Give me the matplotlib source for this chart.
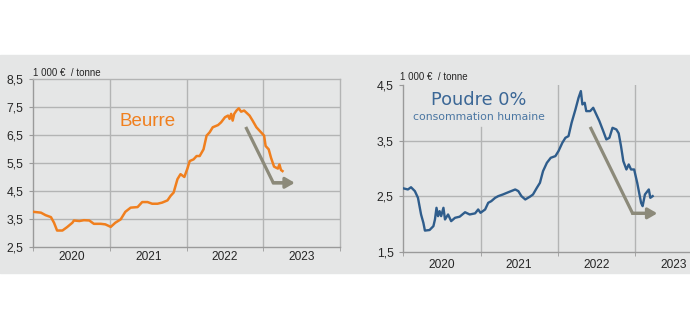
import numpy as np
import matplotlib.pyplot as plt

# prix beurre (1000 EUR / tonne)
beurre_t = [2020.0, 2020.10, 2020.16, 2020.23, 2020.27, 2020.31, 2020.38, 2020.44, 2020.51, 2020.53,
            2020.60, 2020.66, 2020.73, 2020.79, 2020.88, 2020.94, 2021.01, 2021.07, 2021.14, 2021.20,
            2021.27, 2021.36, 2021.42, 2021.49, 2021.55, 2021.62, 2021.68, 2021.75, 2021.79, 2021.83,
            2021.88, 2021.92, 2021.97, 2022.01, 2022.04, 2022.09, 2022.13, 2022.17, 2022.22, 2022.26,
            2022.30, 2022.34, 2022.41, 2022.45, 2022.50, 2022.54, 2022.56, 2022.58, 2022.60, 2022.62,
            2022.65, 2022.68, 2022.71, 2022.75, 2022.82, 2022.86, 2022.91, 2022.97, 2023.01, 2023.03,
            2023.07, 2023.10, 2023.14, 2023.19, 2023.21, 2023.23, 2023.25]
beurre_v = [3.75, 3.72, 3.63, 3.56, 3.36, 3.08, 3.08, 3.20, 3.36, 3.44,
            3.42, 3.45, 3.44, 3.32, 3.32, 3.30, 3.21, 3.36, 3.48, 3.75,
            3.90, 3.92, 4.10, 4.10, 4.04, 4.04, 4.08, 4.16, 4.32, 4.44,
            4.92, 5.10, 5.00, 5.30, 5.57, 5.63, 5.75, 5.75, 5.99, 6.48,
            6.60, 6.78, 6.86, 6.96, 7.14, 7.20, 7.08, 7.26, 7.02, 7.26,
            7.38, 7.46, 7.34, 7.38, 7.20, 7.02, 6.78, 6.60, 6.48, 6.11,
            5.99, 5.69, 5.37, 5.30, 5.45, 5.25, 5.21]

# prix poudre 0% (1000 EUR / tonne)
poudre_t = [2020.0, 2020.06, 2020.10, 2020.15, 2020.19, 2020.23, 2020.26, 2020.28, 2020.34, 2020.39,
            2020.41, 2020.43, 2020.45, 2020.47, 2020.49, 2020.52, 2020.54, 2020.58, 2020.62, 2020.67,
            2020.73, 2020.80, 2020.86, 2020.93, 2020.97, 2021.0, 2021.06, 2021.10, 2021.14, 2021.19,
            2021.23, 2021.29, 2021.36, 2021.45, 2021.49, 2021.53, 2021.58, 2021.64, 2021.68, 2021.73,
            2021.77, 2021.81, 2021.86, 2021.91, 2021.97, 2022.01, 2022.06, 2022.10, 2022.14, 2022.18,
            2022.23, 2022.27, 2022.30, 2022.32, 2022.35, 2022.37, 2022.42, 2022.46, 2022.50, 2022.54,
            2022.59, 2022.63, 2022.67, 2022.71, 2022.76, 2022.79, 2022.82, 2022.85, 2022.89, 2022.92,
            2022.95, 2022.99, 2023.03, 2023.08, 2023.10, 2023.13, 2023.18, 2023.20, 2023.23]
poudre_v = [2.64, 2.62, 2.66, 2.59, 2.47, 2.17, 2.02, 1.88, 1.89, 1.96,
            2.08, 2.29, 2.14, 2.23, 2.14, 2.29, 2.08, 2.17, 2.05, 2.11,
            2.13, 2.21, 2.17, 2.19, 2.26, 2.20, 2.26, 2.38, 2.41, 2.47,
            2.50, 2.53, 2.57, 2.62, 2.59, 2.50, 2.44, 2.49, 2.53, 2.65,
            2.74, 2.95, 3.10, 3.19, 3.22, 3.31, 3.46, 3.55, 3.58, 3.82,
            4.06, 4.27, 4.39, 4.15, 4.18, 4.03, 4.03, 4.09, 3.97, 3.85,
            3.67, 3.52, 3.55, 3.73, 3.70, 3.63, 3.40, 3.13, 2.98, 3.07,
            2.98, 2.98, 2.74, 2.38, 2.32, 2.53, 2.62, 2.47, 2.50]

# fleches de tendance
beurre_arrow_t = [2022.78, 2023.13, 2023.41]
beurre_arrow_v = [6.74, 4.79, 4.79]
poudre_arrow_t = [2022.43, 2022.97, 2023.29]
poudre_arrow_v = [3.72, 2.19, 2.19]

years = [2020, 2021, 2022, 2023]

BG = '#e5e6e6'
GRID = '#b3b4b4'
SPINE = '#9a9a9a'
TXT = '#262626'
ORANGE = '#f07f1e'
BLUE = '#2f5d8c'
ARROW = '#8c8a7a'

plt.rcParams['font.family'] = ['Liberation Sans', 'DejaVu Sans']

fig = plt.figure(figsize=(6.9, 3.35), dpi=100)
fig.patch.set_facecolor('white')
# bandeau gris
band = plt.Rectangle((0, 1 - 273 / 335), 1, (273 - 55) / 335,
                     transform=fig.transFigure, color=BG, zorder=-5)
fig.add_artist(band)


def setup(ax, ylo, yhi, ystep, grid_y):
    ax.set_facecolor(BG)
    ax.set_xlim(2020, 2024)
    ax.set_ylim(ylo, yhi)
    ax.set_yticks(np.arange(ylo, yhi + 0.01, ystep))
    ax.set_yticklabels([f'{v:.1f}'.replace('.', ',') for v in np.arange(ylo, yhi + 0.01, ystep)])
    ax.set_xticks([y + 0.5 for y in years])
    ax.set_xticklabels([str(y) for y in years])
    ax.set_xticks(years + [2024], minor=True)
    ax.tick_params(axis='x', which='major', length=0, labelsize=8.6, colors=TXT, pad=3)
    ax.tick_params(axis='x', which='minor', length=3, color=SPINE)
    ax.tick_params(axis='y', length=3, color=SPINE, labelsize=8.8, colors=TXT, pad=4)
    for v in grid_y:
        ax.axhline(v, color=GRID, lw=1.0, zorder=1)
    for s in ax.spines.values():
        s.set_color(SPINE)
        s.set_linewidth(1.0)


# --- Beurre ---
ax1 = fig.add_axes([33.3 / 690, 1 - 246.7 / 335, 306.7 / 690, 167.4 / 335])
setup(ax1, 2.5, 8.5, 1.0, [3.5, 4.5, 5.5, 6.5, 7.5])
for y in [2021, 2022, 2023]:
    ax1.axvline(y, color=GRID, lw=1.0, zorder=1)
ax1.spines['top'].set_color(GRID)
ax1.spines['right'].set_color(GRID)
ax1.plot(beurre_t, beurre_v, color=ORANGE, lw=1.8, zorder=3)
ax1.plot(beurre_arrow_t[:2] + [beurre_arrow_t[2] - 0.08], beurre_arrow_v, color=ARROW, lw=2.3,
         solid_joinstyle='miter', zorder=2)
ax1.annotate('', xy=(beurre_arrow_t[2], beurre_arrow_v[2]),
             xytext=(beurre_arrow_t[1], beurre_arrow_v[1]),
             arrowprops=dict(arrowstyle='-|>,head_length=0.55,head_width=0.32', color=ARROW, lw=2.3,
                             shrinkA=0, shrinkB=0), zorder=2)
ax1.text(2021.13, 6.97, 'Beurre', color=ORANGE, fontsize=13.5, va='center', ha='left')
ax1.text(0.0, 1.01, '1 000 €  / tonne', transform=ax1.transAxes, fontsize=7, color=TXT,
         va='bottom', ha='left')

# --- Poudre 0% ---
ax2 = fig.add_axes([403.3 / 690, 1 - 251.7 / 335, 308.8 / 690, 166.7 / 335])
setup(ax2, 1.5, 4.5, 1.0, [2.5, 3.5])
ax2.axvline(2021, ymax=(3.75 - 1.5) / 3.0, color=GRID, lw=1.0, zorder=1)
for y in [2022, 2023]:
    ax2.axvline(y, color=GRID, lw=1.0, zorder=1)
ax2.spines['top'].set_visible(False)
ax2.spines['right'].set_visible(False)
ax2.tick_params(axis='x', which='major', pad=5)
ax2.plot(poudre_t, poudre_v, color=BLUE, lw=1.7, zorder=3)
ax2.plot(poudre_arrow_t[:2] + [poudre_arrow_t[2] - 0.08], poudre_arrow_v, color=ARROW, lw=2.3,
         solid_joinstyle='miter', zorder=2)
ax2.annotate('', xy=(poudre_arrow_t[2], poudre_arrow_v[2]),
             xytext=(poudre_arrow_t[1], poudre_arrow_v[1]),
             arrowprops=dict(arrowstyle='-|>,head_length=0.55,head_width=0.32', color=ARROW, lw=2.3,
                             shrinkA=0, shrinkB=0), zorder=2)
ax2.text(2020.98, 4.23, 'Poudre 0%', color='#3b6796', fontsize=12.8, va='center', ha='center',
         family=['DejaVu Sans'])
ax2.text(2020.98, 3.92, 'consommation humaine', color='#4a76a2', fontsize=7.8, va='center',
         ha='center', family=['DejaVu Sans'])
ax2.text(-0.01, 1.02, '1 000 €  / tonne', transform=ax2.transAxes, fontsize=7, color=TXT,
         va='bottom', ha='left')

fig.savefig('out.png', dpi=100, facecolor='white')
